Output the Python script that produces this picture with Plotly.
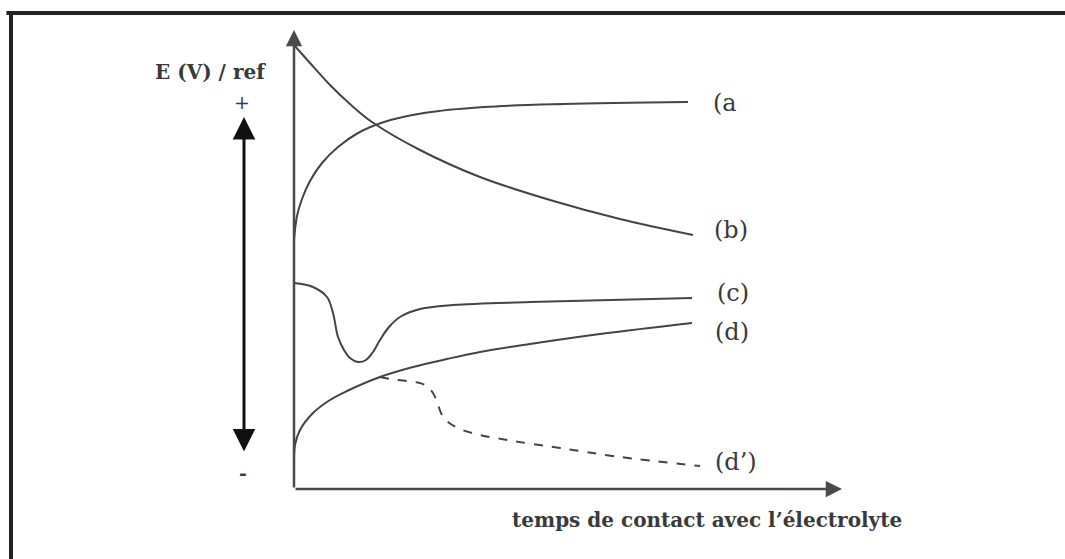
import plotly.graph_objects as go

# Schematic open-circuit potential vs. contact time (arbitrary units)
t_a = [0, 0.3, 0.8, 1.6, 2.8, 4.4, 6.4, 9.0, 13.0, 19.0, 27.0, 39.4]
E_a = [24.9, 27.3, 29.0, 30.8, 32.6, 34.2, 35.6, 36.7, 37.6, 38.2, 38.5, 38.7]

t_b = [0, 1.6, 3.6, 5.6, 7.8, 12.6, 18.6, 25.6, 32.6, 39.9]
E_b = [44.4, 42.6, 40.4, 38.5, 36.7, 33.9, 31.2, 28.9, 27.0, 25.4]

t_c = [0, 1.9, 3.3, 3.9, 4.4, 5.0, 5.6, 6.4, 7.2, 7.9, 8.6, 9.5, 10.6, 12.6, 15.9, 23.6, 39.8]
E_c = [20.6, 20.2, 19.2, 17.6, 15.2, 13.9, 13.1, 12.7, 12.9, 13.7, 14.9, 16.2, 17.2, 18.0, 18.4, 18.7, 19.1]

t_d = [0, 0.1, 0.6, 1.9, 3.6, 5.3, 8.6, 11.9, 15.3, 18.6, 23.6, 30.6, 39.8]
E_d = [2.5, 4.4, 5.9, 7.6, 8.9, 9.8, 11.2, 12.2, 13.0, 13.7, 14.5, 15.5, 16.6]

t_dp = [8.6, 10.3, 12.1, 13.1, 13.9, 14.4, 14.8, 15.4, 16.6, 18.6, 21.9, 26.6, 32.6, 40.6]
E_dp = [11.2, 10.9, 10.7, 10.4, 9.6, 8.4, 7.4, 6.7, 6.0, 5.4, 4.8, 4.1, 3.2, 2.3]

curve_labels = ["(a", "(b)", "(c)", "(d)", "(d\u2019)"]
label_t = [41.7, 41.8, 42.1, 41.9, 41.9]
label_E = [38.6, 25.9, 19.6, 15.7, 2.7]

y_title = "E (V) / ref"
x_title = "temps de contact avec l\u2019\u00e9lectrolyte"

# axis extents and the potential scale arrow
t_axis_end = 54.8
E_axis_end = 45.9
scale_t = -5.0
scale_top = 37.2
scale_bottom = 3.6

FONT = "DejaVu Serif"
INK = "#3a3a3a"

fig = go.Figure()

series = [
    (t_a, E_a, "solid"),
    (t_b, E_b, "solid"),
    (t_c, E_c, "solid"),
    (t_d, E_d, "solid"),
    (t_dp, E_dp, "dash"),
]
for tt, ee, dash in series:
    fig.add_trace(go.Scatter(
        x=tt, y=ee, mode="lines",
        line=dict(color="#444444", width=2, shape="spline", smoothing=1.0, dash=dash),
        hoverinfo="skip", showlegend=False,
    ))

annotations = []

# axes drawn as arrows from the origin
for tip_t, tip_E in [(0, E_axis_end), (t_axis_end, 0)]:
    annotations.append(dict(x=tip_t, y=tip_E, ax=0, ay=0, xref="x", yref="y", axref="x", ayref="y",
                            showarrow=True, arrowhead=2, arrowsize=1.3, arrowwidth=2.5,
                            arrowcolor="#4a4a4a", text=""))

# double-headed potential arrow
annotations.append(dict(x=scale_t, y=scale_top, ax=scale_t, ay=scale_bottom,
                        xref="x", yref="y", axref="x", ayref="y",
                        showarrow=True, arrowhead=2, startarrowhead=2, arrowside="end+start",
                        arrowsize=1.5, startarrowsize=1.5, arrowwidth=3,
                        arrowcolor="#111111", text=""))

annotations.append(dict(x=scale_t - 0.2, y=38.7, xref="x", yref="y", text="+", showarrow=False,
                        font=dict(family=FONT, size=19, color=INK)))
annotations.append(dict(x=scale_t - 0.1, y=1.6, xref="x", yref="y", text="<b>-</b>", showarrow=False,
                        font=dict(family=FONT, size=19, color=INK)))

annotations.append(dict(x=-8.4, y=41.7, xref="x", yref="y", text="<b>" + y_title + "</b>", showarrow=False,
                        font=dict(family=FONT, size=20, color=INK)))
annotations.append(dict(x=41.3, y=-3.1, xref="x", yref="y", text="<b>" + x_title + "</b>", showarrow=False,
                        font=dict(family=FONT, size=20, color=INK)))

for lab, lt, le in zip(curve_labels, label_t, label_E):
    annotations.append(dict(x=lt, y=le, xref="x", yref="y", text=lab, showarrow=False,
                            xanchor="left", font=dict(family=FONT, size=24, color=INK)))

# frame lines along the top and left edges
shapes = [
    dict(type="line", xref="paper", yref="paper", x0=0.006, x1=1.0, y0=1 - 13 / 559, y1=1 - 13 / 559,
         line=dict(color="#222222", width=4)),
    dict(type="line", xref="paper", yref="paper", x0=11 / 1065, x1=11 / 1065, y0=0, y1=1 - 13 / 559,
         line=dict(color="#222222", width=4)),
]

fig.update_layout(
    width=1065, height=559, autosize=False,
    margin=dict(l=0, r=0, t=0, b=0),
    paper_bgcolor="white", plot_bgcolor="white",
    xaxis=dict(range=[-29.4, 77.1], visible=False, fixedrange=True),
    yaxis=dict(range=[-7.0, 48.9], visible=False, fixedrange=True),
    annotations=annotations, shapes=shapes,
    showlegend=False,
)

fig.write_html("out.html")
